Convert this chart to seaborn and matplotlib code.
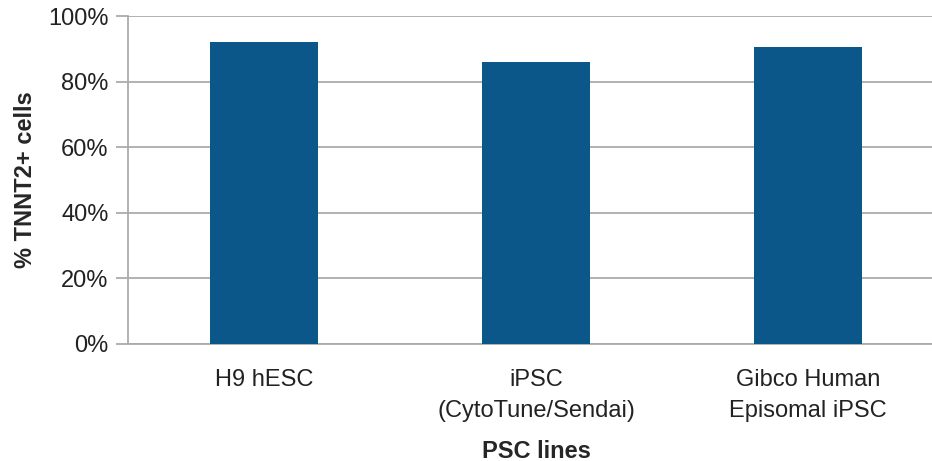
import pandas as pd
import matplotlib.pyplot as plt
import seaborn as sns
import matplotlib.ticker as ticker

# data
lines = ["H9 hESC", "iPSC\n(CytoTune/Sendai)", "Gibco Human\nEpisomal iPSC"]
pct_tnnt2 = [92.2, 86.0, 90.6]

df = pd.DataFrame({"line": lines, "pct": pct_tnnt2})

sns.set_style("white")
plt.rcParams["font.family"] = ["Liberation Sans", "DejaVu Sans"]

fig = plt.figure(figsize=(9.32, 4.61), dpi=100)
ax = fig.add_axes([128 / 932, 1 - 344 / 461, (944 - 128) / 932, 328 / 461])

sns.barplot(data=df, x="line", y="pct", color="#0b578a", width=0.4,
            saturation=1, linewidth=0, ax=ax, zorder=3)

ax.set_ylim(0, 100)
ax.set_xlim(-0.5, 2.5)
ax.yaxis.set_major_locator(ticker.MultipleLocator(20))
ax.yaxis.set_major_formatter(ticker.FuncFormatter(lambda v, p: f"{v:.0f}%"))
ax.grid(axis="y", color="#ababab", linewidth=1.3, zorder=0)
ax.grid(axis="x", visible=False)

for s in ["top", "right"]:
    ax.spines[s].set_visible(False)
ax.spines["left"].set_color("#ababab")
ax.spines["bottom"].set_color("#ababab")
ax.spines["left"].set_linewidth(1.3)
ax.spines["bottom"].set_linewidth(1.3)

ax.tick_params(axis="y", length=9, width=1.3, color="#ababab", labelsize=17,
               labelcolor="#222222", pad=5, left=True)
ax.tick_params(axis="x", length=0, labelsize=17, labelcolor="#222222", pad=18)
for t in ax.get_xticklabels():
    t.set_linespacing(1.5)

ax.set_xlabel("PSC lines", fontsize=17, fontweight="bold", labelpad=13)
ax.set_ylabel("% TNNT2+ cells", fontsize=17, fontweight="bold", labelpad=8)

plt.savefig("out.png", dpi=100)
